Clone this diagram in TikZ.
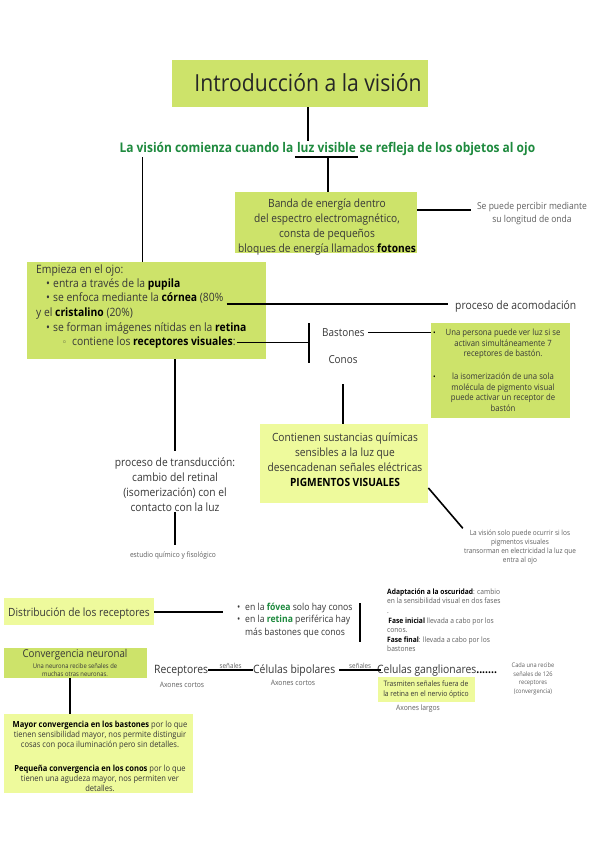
\documentclass[tikz,border=0pt]{standalone}
\usepackage{fontspec}
\setmainfont{Open Sans}[FakeStretch=0.9]
\newfontfamily\dejavu{DejaVu Sans}[FakeStretch=0.9]
\usetikzlibrary{calc}
\definecolor{limebox}{RGB}{205,227,106}
\definecolor{palebox}{RGB}{238,250,156}
\definecolor{greentxt}{RGB}{30,138,62}
\definecolor{maintxt}{RGB}{55,55,55}
\definecolor{smalltxt}{RGB}{95,95,95}
\newcommand{\fs}[2]{\fontsize{#1}{#2}\selectfont}
\newcommand{\bk}[1]{\textbf{\textcolor{black}{#1}}}
\newcommand{\gb}[1]{\textbf{\textcolor{greentxt}{#1}}}
\tikzset{
  lbox/.style={fill=limebox, draw=none, inner sep=0pt, anchor=north west},
  pbox/.style={fill=palebox, draw=none, inner sep=0pt, anchor=north west},
  txt/.style={inner sep=0pt, text=maintxt, anchor=base, align=center},
  ltxt/.style={inner sep=0pt, text=maintxt, anchor=base west, align=left},
  gtxt/.style={inner sep=0pt, text=greentxt, font=\fs{13.3}{16}\bfseries},
  conn/.style={line width=1.6pt, black},
}
\begin{document}
\begin{tikzpicture}[x=1pt,y=-1pt]
\useasboundingbox[fill=white] (0,0) rectangle (599,848);

% title
\node[lbox, minimum width=256pt, minimum height=47pt] (title) at (172,60) {};
\node[txt, font=\fs{23.5}{28}, text=black!85] (titletxt) at (308,92) {Introducción a la visión};

% green sentence
\node[gtxt, anchor=base] (lv) at (326.5,152) {luz visible};
\node[gtxt, anchor=base east] (intro1) at ([xshift=-3.4pt]lv.base west) {La visión comienza cuando la};
\node[gtxt, anchor=base west] (intro2) at ([xshift=3.4pt]lv.base east) {se refleja de los objetos al ojo};
\draw[conn] (title.south -| titletxt) -- ([yshift=1pt]intro1.north -| titletxt);
\draw[conn] ($(lv.base west)+(-2,5)$) -- ($(lv.base east)+(2,5)$);
\coordinate (lvleft) at ($(intro1.base west)+(23,5)$);
\coordinate (lvmid) at ($(lv.base west)+(31,5)$);

% banda
\node[lbox, minimum width=182pt, minimum height=61pt] (banda) at (235,192) {};
\node[txt, font=\fs{11.3}{14.7}] (bandatxt) at (327,252) {Banda de energía dentro\\del espectro electromagnético,\\consta de pequeños\\bloques de energía llamados \bk{fotones}};
\draw[conn] (lvmid) -- (lvmid |- banda.north);
\node[txt, font=\fs{9.5}{13}, text=smalltxt] (percibir) at (532,222) {Se puede percibir mediante\\su longitud de onda};
\draw[conn] ($(banda.north east)+(0,18)$) -- ($(percibir.west |- banda.north east)+(-6,18)$);

% ojo box
\node[lbox, minimum width=239pt, minimum height=97pt] (ojo) at (27,262) {};
\draw[conn] (lvleft) -- (lvleft |- ojo.north);
\node[ltxt, font=\fs{11.5}{14}] (o1) at (36,273.5) {Empieza en el ojo:};
\node[ltxt, font=\fs{11.5}{14}] (o2b) at (46,287.5) {•};
\node[ltxt, font=\fs{11.5}{14}] (o2) at (53,287.5) {entra a través de la \bk{pupila}};
\node[ltxt, font=\fs{11.5}{14}] (o3b) at (46,301.5) {•};
\node[ltxt, font=\fs{11.5}{14}] (o3) at (53,301.5) {se enfoca mediante la \bk{córnea} (80\%};
\node[ltxt, font=\fs{11.5}{14}] (o4) at (36,316.5) {y el \bk{cristalino} (20\%)};
\node[ltxt, font=\fs{11.5}{14}] (o5b) at (46,331.5) {•};
\node[ltxt, font=\fs{11.5}{14}] (o5) at (53,331.5) {se forman imágenes nítidas en la \bk{retina}};
\node[ltxt, font=\fs{9}{14}\dejavu] (o6b) at (62,345.5) {◦};
\node[ltxt, font=\fs{11.5}{14}] (o6) at (72,345.5) {contiene los \bk{receptores visuales}:};

\node[ltxt, font=\fs{11.5}{14}] (acomod) at (455,309) {proceso de acomodación};
\draw[conn] ($(o3.base east)+(3,2.5)$) -- ($(acomod.base west)+(-7,-5)$);

% bracket bastones / conos
\coordinate (bartop) at (309,323);
\coordinate (barbot) at (309,363);
\draw[conn] (bartop) -- (barbot);
\draw[conn] ([xshift=1pt]o6.east) -- (o6.east -| bartop);
\node[ltxt, font=\fs{11}{14}] (bast) at (322,336.5) {Bastones};
\node[txt, font=\fs{11}{14}] (conos) at (343,363.5) {Conos};

% right box
\node[lbox, minimum width=139pt, minimum height=95pt] (rb) at (431,323) {};
\draw[conn] ([xshift=3pt]bast.east) -- (bast.east -| rb.west);
\node[ltxt, font=\fs{7.5}{10}, text=black] (rbb1) at (433,335.5) {•};
\node[ltxt, font=\fs{7.5}{10}, text=black] (rbb2) at (433,379.5) {•};
\node[txt, font=\fs{8.6}{10.5}] (rbt1) at (503,356.5) {Una persona puede ver luz si se\\activan simultáneamente 7\\receptores de bastón.};
\node[txt, font=\fs{8.6}{10.5}] (rbt2) at (503,411) {la isomerización de una sola\\molécula de pigmento visual\\puede activar un receptor de\\bastón};

% pigmentos
\node[pbox, minimum width=168pt, minimum height=79pt] (pig) at (260,424) {};
\draw[conn] ([yshift=-20.5pt]conos.south) -- (conos.south |- pig.north);
\node[txt, font=\fs{11.3}{15}] (pigtxt) at (345,486) {Contienen sustancias químicas\\sensibles a la luz que\\desencadenan señales eléctricas\\\bk{PIGMENTOS VISUALES}};
\node[txt, font=\fs{7.2}{9}, text=smalltxt] (ocurrir) at (520,562) {La visión solo puede ocurrir si los\\pigmentos visuales\\transorman en electricidad la luz que\\entra al ojo};
\draw[conn] ($(pig.north east)+(0,64)$) -- ([xshift=-1pt,yshift=1pt]ocurrir.north west);

% transduccion
\node[txt, font=\fs{11.4}{14.7}] (trans) at (175,511) {proceso de transducción:\\cambio del retinal\\(isomerización) con el\\contacto con la luz};
\draw[conn] (ojo.south -| trans.north) -- ([yshift=7pt]trans.north);
\node[txt, font=\fs{7.4}{9}, text=smalltxt] (estudio) at (173,557) {estudio químico y fisológico};
\draw[conn] ([yshift=-1pt]trans.south) -- ([yshift=6pt]trans.south |- estudio.north);

% distribution
\node[pbox, minimum width=150pt, minimum height=27pt] (dist) at (4,598) {};
\node[txt, font=\fs{11.3}{14}] (disttxt) at (79,616) {Distribución de los receptores};
\node[ltxt, font=\fs{9.6}{12}] (fovb) at (237,610.5) {•};
\node[ltxt, font=\fs{9.6}{12}] (fov1) at (245,610.5) {en la \gb{fóvea} solo hay conos};
\node[ltxt, font=\fs{9.6}{12}] (retb) at (237,622.5) {•};
\node[ltxt, font=\fs{9.6}{12}] (fov2) at (245,622.5) {en la \gb{retina} periférica hay};
\node[ltxt, font=\fs{9.6}{12}] (fov3) at (245,635.5) {más bastones que conos};
\draw[conn] (dist.east) -- ([xshift=-14pt]fovb.west |- dist.east);

\coordinate (b2top) at (360,603);
\coordinate (b2bot) at (360,642);
\draw[conn] (b2top) -- (b2bot);
\node[ltxt, font=\fs{7.4}{9.5}, text=smalltxt] (adapt1) at (387,613) {\bk{Adaptación a la oscuridad}: cambio\\en la sensibilidad visual en dos fases\\.};
\node[ltxt, font=\fs{7.4}{9.5}, text=smalltxt] (adapt2) at (387,632.5) {\,\bk{Fase inicial} llevada a cabo por los\\conos.};
\node[ltxt, font=\fs{7.4}{9.5}, text=smalltxt] (adapt3) at (387,651.5) {\bk{Fase final}: llevada a cabo por los\\bastones};
\draw[conn] ($(adapt2.base west)+(0,-13.5)$ -| b2top) -- ($(adapt2.base west)+(0,-13.5)$);

% convergence
\node[lbox, minimum width=143pt, minimum height=30pt] (conv) at (4,648) {};
\node[txt, font=\fs{10.8}{13}] (convt) at (75,657) {Convergencia neuronal};
\node[txt, font=\fs{6.5}{8}] (convs) at (75,676) {Una neurona recibe señales de\\muchas otras neuronas.};
\node[pbox, minimum width=189pt, minimum height=79pt] (low) at (4,714) {};
\draw[conn] ([xshift=-5.5pt]conv.south) -- ([xshift=-5.5pt]conv.south |- low.north);
\node[txt, font=\fs{8.4}{10}] (lowtxt) at (100,791) {\bk{Mayor convergencia en los bastones} por lo que\\tienen sensibilidad mayor, nos permite distinguir\\cosas con poca iluminación pero sin detalles.\\[14pt]\bk{Pequeña convergencia en los conos} por lo que\\tienen una agudeza mayor, nos permiten ver\\detalles.};

% chain
\node[ltxt, font=\fs{11.5}{14}] (recep) at (154,673) {Receptores};
\node[ltxt, font=\fs{11.5}{14}] (bipol) at (253,673) {Células bipolares};
\node[ltxt, font=\fs{11.5}{14}] (gangl) at (377,673) {Celulas ganglionares\textbf{\textcolor{black}{.......}}};
\draw[conn] (recep.east) -- (recep.east -| bipol.west) node[midway, above=1pt, inner sep=0pt, font=\fs{7}{8}, text=smalltxt] (sen1) {señales};
\draw[conn] ([xshift=4pt]bipol.east) -- ([xshift=4pt]bipol.east -| gangl.west) node[midway, above=1pt, inner sep=0pt, font=\fs{7}{8}, text=smalltxt] (sen2) {señales};
\node[txt, font=\fs{7.5}{9}, text=smalltxt] (ax1) at (182,687) {Axones cortos};
\node[txt, font=\fs{7.5}{9}, text=smalltxt] (ax2) at (293,685) {Axones cortos};
\node[pbox, minimum width=97pt, minimum height=25pt] (trbox) at (378,677) {};
\node[txt, font=\fs{7.5}{10}] (trtxt) at (426,696) {Trasmiten señales fuera de\\la retina en el nervio óptico};
\node[txt, font=\fs{7.5}{9}, text=smalltxt] (ax3) at (418,710) {Axones largos};
\node[txt, font=\fs{6.3}{8.4}, text=smalltxt] (cada) at (533,693) {Cada una recibe\\señales de 126\\receptores\\(convergencia)};
\end{tikzpicture}
\end{document}
